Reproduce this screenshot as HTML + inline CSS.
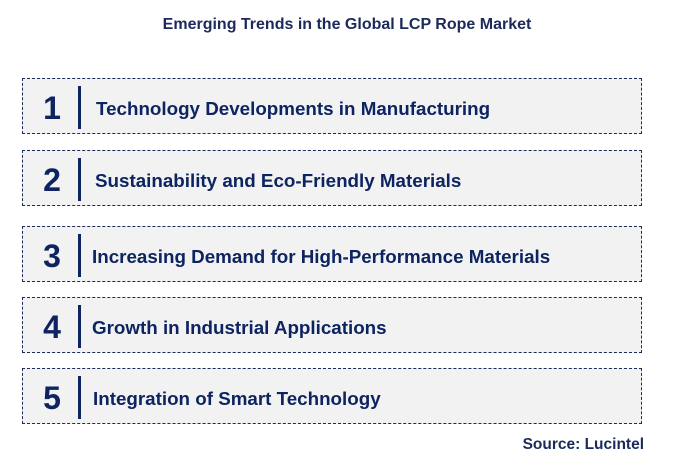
<!DOCTYPE html>
<html><head><meta charset="utf-8"><style>
body{margin:0;width:674px;height:473px;background:#fff;font-family:"Liberation Sans",Arial,sans-serif;position:relative;overflow:hidden}
.title{position:absolute;top:16px;left:0;width:694px;text-align:center;font-size:16px;font-weight:bold;color:#1b2a5a}
.box{position:absolute;left:22px;width:618px;height:54px;background:#f2f2f2;border:1px dashed #1b2a5a}
.num{position:absolute;left:12px;width:34px;top:2px;height:54px;line-height:54px;text-align:center;font-size:32px;font-weight:bold;color:#0d2461}
.bar{position:absolute;left:55px;top:7px;width:3px;height:43px;background:#0d2461}
.txt{position:absolute;top:0;height:54px;line-height:60px;font-size:18.8px;font-weight:bold;color:#0d2461;white-space:nowrap}
.src{position:absolute;right:30px;top:436px;font-size:15.5px;font-weight:bold;color:#1b2a5a}
</style></head><body>
<div class="title">Emerging Trends in the Global LCP Rope Market</div>
<div class="box" style="top:78px"><div class="num">1</div><div class="bar"></div><div class="txt" style="left:73px">Technology Developments in Manufacturing</div></div>
<div class="box" style="top:150px"><div class="num">2</div><div class="bar"></div><div class="txt" style="left:72px">Sustainability and Eco-Friendly Materials</div></div>
<div class="box" style="top:226px"><div class="num">3</div><div class="bar"></div><div class="txt" style="left:69px">Increasing Demand for High-Performance Materials</div></div>
<div class="box" style="top:297px"><div class="num">4</div><div class="bar"></div><div class="txt" style="left:69px">Growth in Industrial Applications</div></div>
<div class="box" style="top:368px"><div class="num">5</div><div class="bar"></div><div class="txt" style="left:70px">Integration of Smart Technology</div></div>
<div class="src">Source: Lucintel</div>
</body></html>
